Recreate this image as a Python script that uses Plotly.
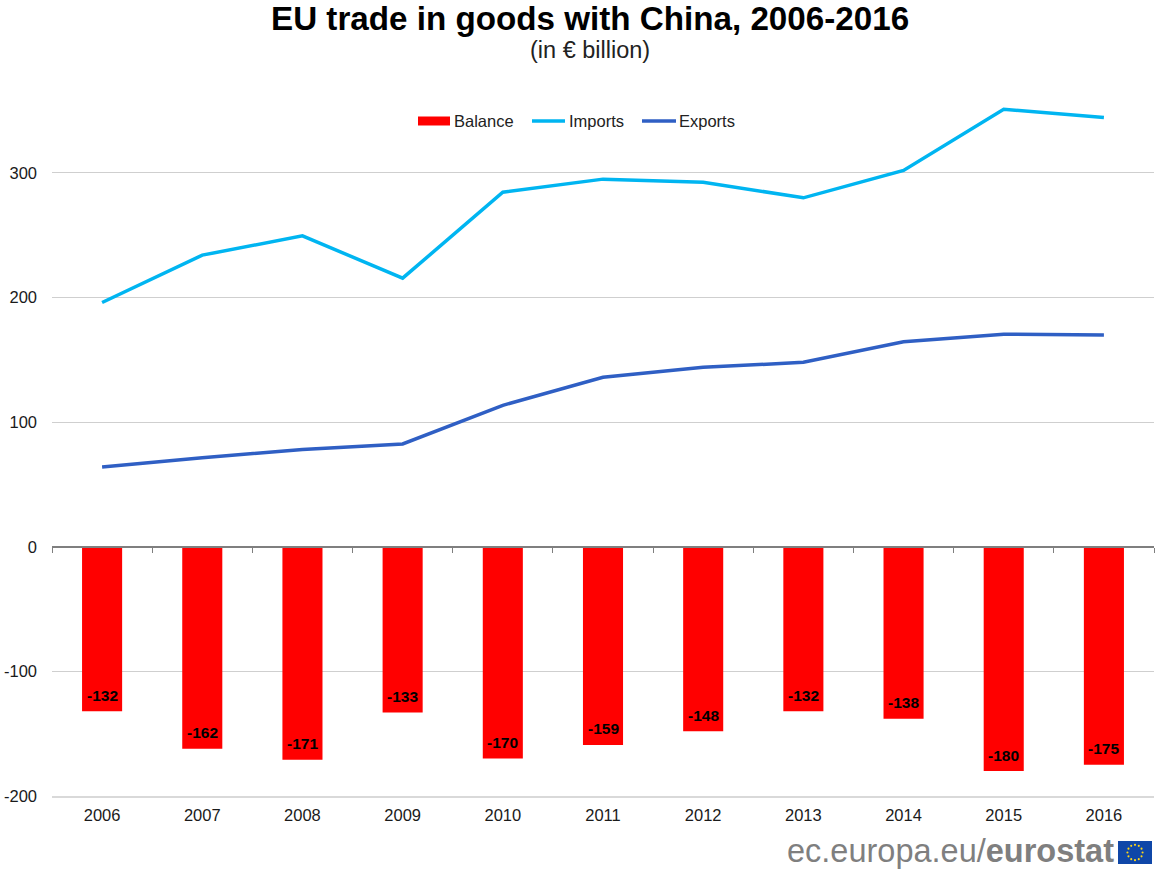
import base64
import math
import plotly.graph_objects as go

# EU trade in goods with China, EUR billion
years = ["2006", "2007", "2008", "2009", "2010", "2011", "2012", "2013", "2014", "2015", "2016"]
balance = [-132, -162, -171, -133, -170, -159, -148, -132, -138, -180, -175]
imports = [196, 234, 249.5, 215.5, 284.5, 295, 292.5, 280, 302, 351, 344.5]
exports = [64, 71.5, 78, 82.5, 113.5, 136, 144, 148, 164.5, 170.5, 170]

TITLE = "EU trade in goods with China, 2006-2016"
SUBTITLE = "(in € billion)"
FONT = "Liberation Sans"
RED, SKY, BLUE = "#ff0000", "#00b5f1", "#2f5fc4"
TICK_SIZE = 16.5
W, H = 1156, 870
L, R, T, B = 52, 2, 98, 74
Y_MIN, Y_MAX = -200, 360.1


def px_x(p):
    return (p - L) / (W - L - R)


def px_y(p):
    return 1 - (p - T) / (H - T - B)


def flag_svg():
    # European flag: twelve gold stars in a circle on blue
    stars = ""
    for i in range(12):
        a = math.radians(i * 30)
        cx, cy = 45 + 20 * math.sin(a), 30 - 20 * math.cos(a)
        stars += f'<circle cx="{cx:.1f}" cy="{cy:.1f}" r="2.8" fill="#ffd617"/>'
    svg = f'<svg xmlns="http://www.w3.org/2000/svg" width="90" height="60"><rect width="90" height="60" fill="#0f47a8"/>{stars}</svg>'
    return "data:image/svg+xml;base64," + base64.b64encode(svg.encode()).decode()


def key_shape(x0, x1, color, height):
    # Legend key drawn as a filled strip in page pixels
    return dict(type="rect", xref="paper", yref="paper", layer="above", line_width=0,
                x0=px_x(x0), x1=px_x(x1), fillcolor=color,
                y0=px_y(121 + height / 2), y1=px_y(121 - height / 2))


def key_label(x, text):
    return dict(text=text, xref="paper", yref="paper", x=px_x(x), y=px_y(121),
                xanchor="left", yanchor="middle", showarrow=False, xshift=-2,
                font=dict(size=TICK_SIZE, color="#222222"))


fig = go.Figure()
fig.add_trace(go.Bar(
    x=years, y=balance, name="Balance", xaxis="x2", width=0.4,
    marker=dict(color=RED, line_width=0),
))
fig.add_trace(go.Scatter(x=years, y=imports, name="Imports", mode="lines",
                         line=dict(color=SKY, width=3.5)))
fig.add_trace(go.Scatter(x=years, y=exports, name="Exports", mode="lines",
                         line=dict(color=BLUE, width=3.5)))

# Value labels sit just above the lower end of each bar; x is the category index
value_labels = [
    dict(text=f"<b>{value}</b>", x=i, y=value, xref="x", yref="y", yshift=16, showarrow=False,
         xanchor="center", yanchor="middle", font=dict(size=15.5, color="#000000"))
    for i, value in enumerate(balance)
]

fig.update_layout(
    width=W, height=H, autosize=False,
    margin=dict(l=L, r=R, t=T, b=B),
    paper_bgcolor="white", plot_bgcolor="white",
    font=dict(family=FONT, size=TICK_SIZE, color="#1a1a1a"),
    showlegend=False,
    bargap=0.6,
    xaxis=dict(type="category", categoryorder="array", categoryarray=years,
               range=[-0.5, 10.5], showgrid=False, showline=True, linecolor="#d9d9d9", linewidth=2,
               ticks="", tickfont=dict(size=TICK_SIZE, color="#1a1a1a"), ticklabelstandoff=3),
    xaxis2=dict(type="category", categoryorder="array", categoryarray=years,
                range=[-0.5, 10.5], overlaying="x", anchor="free", side="bottom",
                position=(0 - Y_MIN) / (Y_MAX - Y_MIN),
                showline=True, linecolor="#7f7f7f", linewidth=1.5,
                ticks="outside", tickson="boundaries", ticklen=5, tickcolor="#7f7f7f",
                tickwidth=1, showticklabels=False, showgrid=False),
    yaxis=dict(range=[Y_MIN, Y_MAX], tickmode="array", tickvals=[-200, -100, 0, 100, 200, 300],
               ticktext=["-200", "-100", "0", "100", "200", "300"],
               showgrid=True, gridcolor="#cfcfcf", gridwidth=1, zeroline=False, showline=False,
               ticks="", tickfont=dict(size=TICK_SIZE, color="#1a1a1a"), ticklabelstandoff=14),
    shapes=[
        key_shape(418, 450, RED, 9),
        key_shape(532, 565, SKY, 3.5),
        key_shape(642, 676, BLUE, 3.5),
    ],
    images=[dict(source=flag_svg(), xref="paper", yref="paper", x=px_x(1118), y=px_y(841),
                 sizex=34 / (W - L - R), sizey=23 / (H - T - B), xanchor="left", yanchor="top",
                 sizing="stretch", layer="above")],
    annotations=value_labels + [
        dict(text=f"<b>{TITLE}</b>", xref="paper", yref="paper", x=px_x(590), y=px_y(18.5),
             xanchor="center", yanchor="middle", showarrow=False,
             font=dict(size=33.2, color="#000000")),
        dict(text=SUBTITLE, xref="paper", yref="paper", x=px_x(590), y=px_y(50),
             xanchor="center", yanchor="middle", showarrow=False,
             font=dict(size=23.5, color="#222222")),
        dict(text='ec.europa.eu/<b>eurostat</b>', xref="paper", yref="paper", x=px_x(1116), y=px_y(851),
             xanchor="right", yanchor="middle", showarrow=False,
             font=dict(size=32.5, color="#7f7f7f")),
        key_label(454, "Balance"),
        key_label(569, "Imports"),
        key_label(679, "Exports"),
    ],
)

fig.write_html("out.html")
